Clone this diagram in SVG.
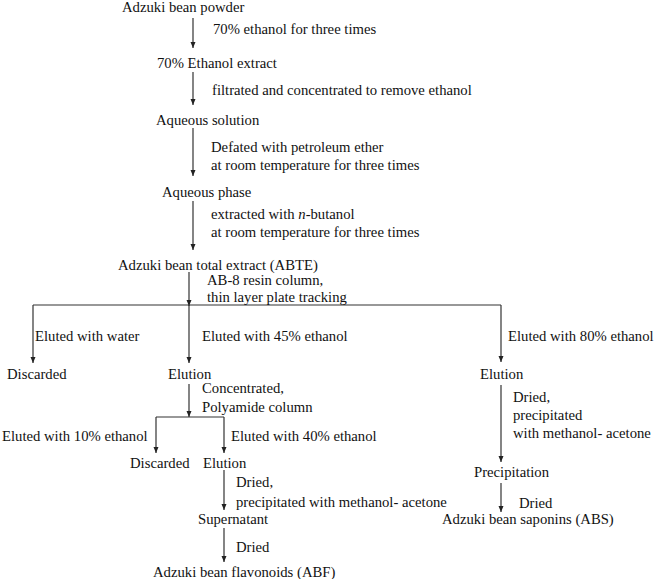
<svg xmlns="http://www.w3.org/2000/svg" width="655" height="579" viewBox="0 0 655 579">
<style>
text{font-family:"Liberation Serif","Times New Roman",serif;font-size:14.7px;fill:#111}
.c line,.c polyline{stroke:#333;stroke-width:1.2;fill:none}
</style>
<defs>
<marker id="ah" markerUnits="userSpaceOnUse" markerWidth="6" markerHeight="6" refX="6" refY="2.5" orient="auto">
<path d="M0,0 L6,2.5 L0,5 z" fill="#222"/>
</marker>
</defs>
<rect width="655" height="579" fill="#fff"/>
<g class="c" id="connectors">
<line x1="193" y1="18" x2="193" y2="48" marker-end="url(#ah)"/>
<line x1="193" y1="72" x2="193" y2="105" marker-end="url(#ah)"/>
<line x1="193" y1="128" x2="193" y2="176" marker-end="url(#ah)"/>
<line x1="193" y1="201" x2="193" y2="250" marker-end="url(#ah)"/>
<line x1="189" y1="272" x2="189" y2="306" marker-end="url(#ah)"/>
<line x1="33" y1="305" x2="501" y2="305"/>
<line x1="33" y1="305" x2="33" y2="363" marker-end="url(#ah)"/>
<line x1="501" y1="305" x2="501" y2="362" marker-end="url(#ah)"/>
<line x1="189" y1="305" x2="189" y2="363" marker-end="url(#ah)"/>
<line x1="189" y1="384" x2="189" y2="417" marker-end="url(#ah)"/>
<line x1="156" y1="417" x2="224" y2="417"/>
<line x1="156" y1="417" x2="156" y2="453" marker-end="url(#ah)"/>
<line x1="224" y1="417" x2="224" y2="453" marker-end="url(#ah)"/>
<line x1="224" y1="470" x2="224" y2="510" marker-end="url(#ah)"/>
<line x1="224" y1="528" x2="224" y2="562" marker-end="url(#ah)"/>
<line x1="501" y1="385" x2="501" y2="462" marker-end="url(#ah)"/>
<line x1="501" y1="483" x2="501" y2="512" marker-end="url(#ah)"/>
</g>
<g id="labels">
<text x="213" y="34">70% ethanol for three times</text>
<text x="212" y="95">filtrated and concentrated to remove ethanol</text>
<text x="211" y="152">Defated with petroleum ether</text>
<text x="211" y="170">at room temperature for three times</text>
<text x="211" y="219">extracted with <tspan font-style="italic">n</tspan>-butanol</text>
<text x="211" y="237">at room temperature for three times</text>
<text x="207" y="285">AB-8 resin column,</text>
<text x="207" y="302">thin layer plate tracking</text>
<text x="35" y="341">Eluted with water</text>
<text x="202" y="341">Eluted with 45% ethanol</text>
<text x="508" y="341">Eluted with 80% ethanol</text>
<text x="202" y="393">Concentrated,</text>
<text x="202" y="412">Polyamide column</text>
<text x="2" y="441">Eluted with 10% ethanol</text>
<text x="231" y="441">Eluted with 40% ethanol</text>
<text x="236" y="487">Dried,</text>
<text x="236" y="507">precipitated with methanol- acetone</text>
<text x="236" y="552">Dried</text>
<text x="513" y="402">Dried,</text>
<text x="513" y="420">precipitated</text>
<text x="513" y="438">with methanol- acetone</text>
<text x="519" y="508">Dried</text>
</g>
<g id="n1"><text x="122" y="12">Adzuki bean powder</text></g>
<g id="n2"><text x="157" y="68">70% Ethanol extract</text></g>
<g id="n3"><text x="156" y="125">Aqueous solution</text></g>
<g id="n4"><text x="162" y="197">Aqueous phase</text></g>
<g id="n5"><text x="118" y="270">Adzuki bean total extract (ABTE)</text></g>
<g id="n6"><text x="7" y="379">Discarded</text></g>
<g id="n7"><text x="168" y="379">Elution</text></g>
<g id="n8"><text x="480" y="379">Elution</text></g>
<g id="n9"><text x="130" y="468">Discarded</text></g>
<g id="n10"><text x="203" y="468">Elution</text></g>
<g id="n11"><text x="198" y="524">Supernatant</text></g>
<g id="n12"><text x="153" y="577">Adzuki bean flavonoids (ABF)</text></g>
<g id="n13"><text x="474" y="477">Precipitation</text></g>
<g id="n14"><text x="442" y="524">Adzuki bean saponins (ABS)</text></g>
</svg>
